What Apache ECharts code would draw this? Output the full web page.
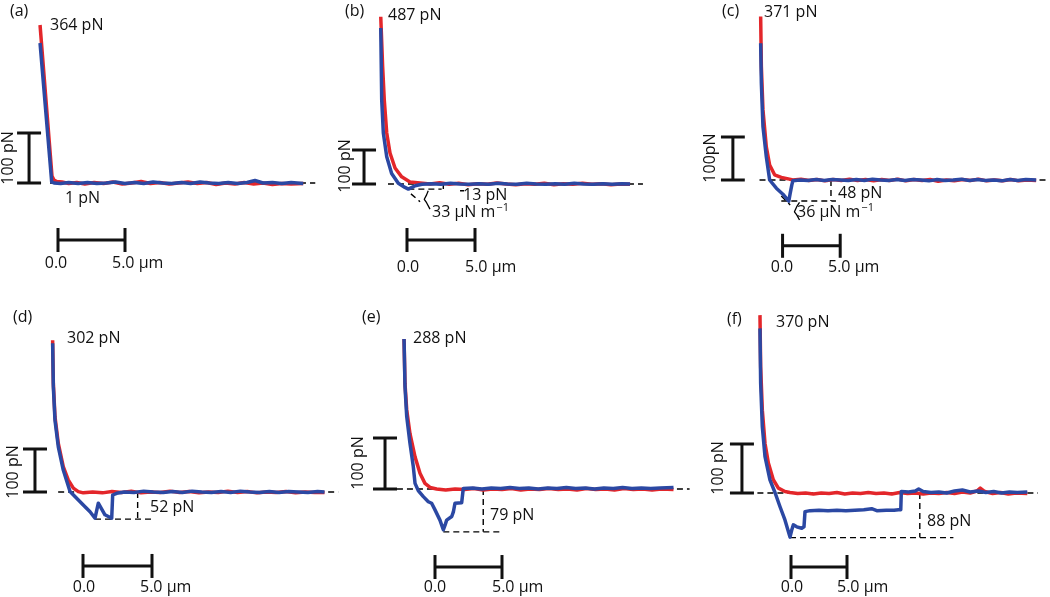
<!DOCTYPE html>
<html>
<head>
<meta charset="utf-8">
<script src="https://cdn.jsdelivr.net/npm/echarts@6/dist/echarts.min.js"></script>
<style>
  html, body {margin: 0; padding: 0; background: #fff;}
  #chart {width: 1050px; height: 597px;}
</style>
</head>
<body>
<div id="chart"></div>
<script>
// force curves: [distance µm, force pN]; red = approach, blue = retract
const redA = [[-1.34,316],[-0.45,14],[-0.3,6],[-0.1,3],[0.3,2],[0.8,-1],[1.4,1],[2,-2],[2.7,1],[3.4,-1],[4.1,2],[4.8,-2],[5.5,0],[6.2,3],[6.9,-1],[7.6,1],[8.3,-2],[9,0],[9.7,2],[10.4,-1],[11.1,1],[11.8,-3],[12.5,0],[13.2,-2],[13.9,1],[14.6,-2],[15.3,0],[16,-3],[16.7,-1],[17.4,-2],[18.3,-1]];
const blueA = [[-1.34,280],[-0.47,2],[-0.3,0],[0.2,-1],[0.8,1],[1.5,-1],[2.2,1],[2.9,-1],[3.6,0],[4.3,2],[5,-1],[5.7,1],[6.4,-1],[7.1,2],[7.8,0],[8.5,-1],[9.2,1],[9.9,-1],[10.6,2],[11.3,0],[12,-1],[12.7,1],[13.4,-1],[14.1,1],[14.7,5],[15.3,0],[16,1],[16.7,-1],[17.4,1],[18.3,-1]];

const redB = [[-1.93,492],[-1.79,345],[-1.67,247],[-1.49,150],[-1.25,91],[-0.88,47],[-0.39,21],[0.22,6],[0.96,3],[1.7,0],[2.4,4],[3.1,-1],[3.8,2],[4.5,-2],[5.2,1],[5.9,-1],[6.6,3],[7.3,0],[8,-2],[8.7,1],[9.4,-1],[10.1,2],[10.8,-2],[11.5,1],[12.2,-1],[12.9,2],[13.6,-1],[14.3,1],[15,-2],[15.7,0],[16.4,-1]];
const blueB = [[-1.93,459],[-1.86,247],[-1.74,150],[-1.49,80],[-1.13,31],[-0.64,2],[-0.15,-10],[0.1,-15],[0.6,-5],[1.1,-1],[1.8,1],[2.5,-1],[3.2,2],[3.9,0],[4.6,-1],[5.3,1],[6,-1],[6.7,2],[7.4,0],[8.1,-1],[8.8,2],[9.5,0],[10.2,-1],[10.9,1],[11.6,-1],[12.3,2],[13,0],[13.7,-1],[14.4,1],[15.1,-1],[15.8,1],[16.4,0]];

const redC = [[-1.9,380],[-1.84,264],[-1.7,163],[-1.41,77],[-1.12,35],[-0.69,12],[-0.11,6],[0.6,2],[0.89,0],[1.6,2],[2.3,-1],[3,1],[3.7,-2],[4.4,1],[5.1,-1],[5.8,2],[6.5,-1],[7.2,1],[7.9,-2],[8.6,1],[9.3,-1],[10,2],[10.7,-2],[11.4,1],[12.1,-1],[12.8,1],[13.5,-3],[14.2,0],[14.9,-2],[15.6,1],[16.3,-1],[17,2],[17.7,-2],[18.4,0],[19.1,-2],[19.8,1],[20.5,-2],[21.2,0],[22,-1]];
const blueC = [[-1.9,318],[-1.84,225],[-1.7,124],[-1.41,54],[-1.12,0],[-0.54,-19],[0.03,-33],[0.54,-49],[0.66,-31],[0.8,-12],[0.89,-2],[1.5,0],[2.2,-1],[2.9,1],[3.6,-1],[4.3,1],[5,0],[5.7,-1],[6.4,1],[7.1,-1],[7.8,2],[8.5,0],[9.2,-1],[9.9,1],[10.6,-1],[11.3,1],[12,0],[12.7,-2],[13.4,1],[14.1,-1],[14.8,0],[15.5,2],[16.2,-1],[16.9,1],[17.6,-1],[18.3,0],[19,-2],[19.7,1],[20.4,-1],[21.1,1],[22,0]];

const redD = [[-2.2,353],[-2.15,253],[-2.03,175],[-1.79,113],[-1.43,59],[-1.07,28],[-0.7,9],[-0.34,1],[0.02,-2],[0.7,0],[1.4,-2],[2.1,1],[2.8,-1],[3.5,2],[4.2,-2],[4.9,0],[5.6,-1],[6.3,2],[7,-1],[7.7,1],[8.4,-2],[9.1,0],[9.8,-1],[10.5,2],[11.2,-1],[11.9,1],[12.6,-2],[13.3,0],[14,-1],[14.7,1],[15.4,-2],[16.1,0],[16.8,-1],[17.5,-1]];
const blueD = [[-2.2,346],[-2.15,245],[-2.03,167],[-1.79,105],[-1.43,51],[-0.94,1],[0.02,-30],[0.51,-46],[0.87,-61],[1.11,-26],[1.59,-53],[2.08,-61],[2.15,-7],[2.44,-3],[3,0],[3.7,-1],[4.4,2],[5.1,0],[5.8,-1],[6.5,1],[7.2,-1],[7.9,2],[8.6,0],[9.3,-1],[10,1],[10.7,-1],[11.4,2],[12.1,0],[12.8,-1],[13.5,1],[14.2,-1],[14.9,1],[15.6,0],[16.3,-1],[17,1],[17.5,0]];

const redE = [[-2.31,294],[-2.24,207],[-2.11,155],[-1.87,109],[-1.49,63],[-1.12,31],[-0.75,11],[-0.37,3],[0.12,0],[0.8,-2],[1.5,0],[2.2,-1],[2.9,1],[3.6,-2],[4.3,0],[5,-1],[5.7,1],[6.4,-2],[7.1,0],[7.8,-1],[8.5,1],[9.2,-1],[9.9,0],[10.6,-2],[11.3,1],[12,-1],[12.7,0],[13.4,-2],[14.1,1],[14.8,-1],[15.5,0],[16.2,-2],[16.9,0],[17.8,-1]];
const blueE = [[-2.31,294],[-2.24,201],[-2.11,142],[-1.87,90],[-1.62,44],[-1.49,11],[-1.25,-3],[-0.87,-15],[-0.5,-25],[-0.25,-28],[0,-41],[0.37,-61],[0.62,-80],[0.75,-71],[0.87,-61],[1.25,-54],[1.37,-45],[1.49,-28],[1.99,-27],[2.11,1],[2.8,2],[3.5,0],[4.2,2],[4.9,1],[5.6,3],[6.3,1],[7,2],[7.7,0],[8.4,2],[9.1,1],[9.8,3],[10.5,1],[11.2,2],[11.9,0],[12.6,2],[13.3,1],[14,3],[14.7,1],[15.4,2],[16.1,1],[16.8,2],[17.8,3]];

const redF = [[-2.77,363],[-2.71,258],[-2.56,169],[-2.32,101],[-2.02,61],[-1.58,27],[-1.13,10],[-0.54,3],[-0.09,1],[0.6,-1],[1.3,0],[2,-2],[2.7,0],[3.4,-1],[4.1,1],[4.8,-2],[5.5,0],[6.2,-1],[6.9,1],[7.6,-1],[8.3,0],[9,-2],[9.7,1],[10.4,-1],[11.1,0],[11.8,-2],[12.5,0],[13.2,-1],[13.9,1],[14.6,-1],[15.3,2],[16,0],[16.6,4],[16.9,10],[17.3,3],[18,-1],[18.7,1],[19.4,-2],[20.1,0],[21.1,-1]];
const blueF = [[-2.77,336],[-2.71,224],[-2.56,135],[-2.32,74],[-1.88,27],[-1.43,1],[-0.98,-28],[-0.54,-55],[-0.09,-90],[0.06,-76],[0.21,-65],[0.51,-69],[0.96,-72],[1.16,-69],[1.25,-38],[1.7,-36],[2.5,-35],[3.3,-36],[4.1,-35],[4.9,-36],[5.7,-35],[6.5,-34],[7.2,-32],[7.66,-36],[8.5,-35],[9.2,-35],[9.6,-34],[9.8,-34],[9.85,3],[10.5,2],[11.1,4],[11.4,8],[11.8,3],[12.5,1],[13.2,2],[13.9,0],[14.6,4],[15.3,6],[16,2],[16.7,4],[17.4,1],[18.1,3],[18.8,0],[19.5,2],[20.2,1],[21.1,2]];

const redCurves = [redA, redB, redC, redD, redE, redF];
const blueCurves = [blueA, blueB, blueC, blueD, blueE, blueF];

const panelLabels = ['(a)', '(b)', '(c)', '(d)', '(e)', '(f)'];
const peakLabels = ['364 pN', '487 pN', '371 pN', '302 pN', '288 pN', '370 pN'];
const forceBarLabels = ['100 pN', '100 pN', '100pN', '100 pN', '100 pN', '100 pN'];
const adhesionLabels = ['1 pN', '13 pN', '48 pN', '52 pN', '79 pN', '88 pN'];
const slopeLabels = [null, '33 μN m', '36 μN m', null, null, null];
const distTicks = ['0.0', '5.0 μm'];

// scale bars: 100 pN vertical, 5 µm horizontal
const forceBarLen = 100;
const distBarLen = 5;
const forceBarX = [-2.16, -3.16, -4.31, -3.48, -3.73, -4.38];
const distBarY = [-114, -165, -153, -172, -153, -151];

// zero-force dashed line extents (µm)
const zeroLine = [[-0.6, 19.2], [-1.4, 17.35], [-2.0, 23.0], [-1.8, 18.5], [-2.84, 19.0], [-3.0, 22.05]];

// dashed annotation guides per panel
const guides = [
  [],
  [[[0.1,-15],[2.55,-15]], [[2.67,-15],[2.67,-3]], [[3.9,-20],[4.2,-20]], [[0.29,-29],[0.96,-52]]],
  [[[-0.11,-49],[4.63,-49]], [[4.2,0],[4.2,-49]], [[-0.11,-37],[0.66,-58]]],
  [[[0.87,-63],[4.98,-63]], [[3.96,0],[3.96,-63]]],
  [[[0.62,-84],[4.98,-84]], [[3.6,0],[3.6,-84]]],
  [[[-0.09,-91],[14.5,-91]], [[11.5,0],[11.5,-91]]]
];
// braces next to the slope labels
const braces = [
  null,
  [[1.56,-20],[1.44,-32],[1.27,-45],[1.44,-55],[1.69,-74]],
  [[1.47,-52],[1.23,-62],[1.03,-74],[1.23,-81],[1.47,-93]],
  null, null, null
];

// pixel layout of each panel: x0/y0 = origin, sx px per µm, sy px per pN
const layout = [
  {x0: 58,  y0: 183, sx: 13.4, sy: 0.5,  xr: [-4, 20],   yr: [-160, 340]},
  {x0: 407, y0: 184, sx: 13.6, sy: 0.34, xr: [-5, 18],   yr: [-220, 520]},
  {x0: 783, y0: 180, sx: 11.6, sy: 0.43, xr: [-6, 23.2], yr: [-200, 400]},
  {x0: 83,  y0: 492, sx: 13.8, sy: 0.43, xr: [-5, 19],   yr: [-220, 380]},
  {x0: 435, y0: 489, sx: 13.4, sy: 0.51, xr: [-5, 20],   yr: [-200, 320]},
  {x0: 791, y0: 493, sx: 11.2, sy: 0.49, xr: [-6, 23],   yr: [-200, 380]}
];
// text positions (px)
const textPos = [
  {lab: [10, 11],  peak: [50, 25],  bar: [8, 158],   adh: [65, 198],  slope: null,      zero: 56,  five: 112, ty: 263},
  {lab: [345, 11], peak: [388, 15], bar: [345, 166], adh: [463, 195], slope: [432, 212], zero: 408, five: 465, ty: 267},
  {lab: [722, 11], peak: [764, 12], bar: [710, 158], adh: [838, 193], slope: [797, 212], zero: 782, five: 828, ty: 267},
  {lab: [13, 317], peak: [67, 338], bar: [13, 472],  adh: [150, 507], slope: null,      zero: 84,  five: 140, ty: 587},
  {lab: [362, 317], peak: [413, 338], bar: [358, 463], adh: [490, 515], slope: null,    zero: 435, five: 492, ty: 587},
  {lab: [727, 319], peak: [776, 322], bar: [718, 468], adh: [927, 521], slope: null,    zero: 792, five: 837, ty: 587}
];

const RED = '#e3262a';
const BLUE = '#2b48a3';
const INK = '#111';
const FONT = '"Open Sans", "Noto Sans", sans-serif';

const grids = [], xAxes = [], yAxes = [], series = [], graphics = [];

function seg(i, data, style) {
  series.push({
    type: 'line', xAxisIndex: i, yAxisIndex: i, data: data,
    symbol: 'none', silent: true, animation: false, clip: false,
    lineStyle: style
  });
}

function txt(x, y, s, align, rot) {
  graphics.push({
    type: 'text', x: x, y: y, rotation: rot || 0, silent: true,
    style: {
      text: s, fontSize: 16, fontFamily: FONT, fill: INK,
      textAlign: align || 'left', textVerticalAlign: 'middle',
      align: align || 'left', verticalAlign: 'middle'
    }
  });
}

layout.forEach((L, i) => {
  grids.push({
    left: L.x0 + L.xr[0] * L.sx,
    width: (L.xr[1] - L.xr[0]) * L.sx,
    top: L.y0 - L.yr[1] * L.sy,
    height: (L.yr[1] - L.yr[0]) * L.sy
  });
  xAxes.push({gridIndex: i, type: 'value', min: L.xr[0], max: L.xr[1], show: false});
  yAxes.push({gridIndex: i, type: 'value', min: L.yr[0], max: L.yr[1], show: false});

  const dash = {color: '#000', width: 1.4, type: [6, 4]};
  const bar = {color: INK, width: 3, type: 'solid'};

  seg(i, [[zeroLine[i][0], 0], [zeroLine[i][1], 0]], dash);
  guides[i].forEach(g => seg(i, g, dash));
  if (braces[i]) seg(i, braces[i], {color: '#000', width: 1.3});

  seg(i, redCurves[i], {color: RED, width: 3.5, join: 'round'});
  seg(i, blueCurves[i], {color: BLUE, width: 3.5, join: 'round'});

  // 100 pN bar
  const fx = forceBarX[i], cx = 12 / L.sx;
  seg(i, [[fx, 0], [fx, forceBarLen]], bar);
  seg(i, [[fx - cx, 0], [fx + cx, 0]], bar);
  seg(i, [[fx - cx, forceBarLen], [fx + cx, forceBarLen]], bar);
  // 5 µm bar
  const dy = distBarY[i], cy = 12 / L.sy;
  seg(i, [[0, dy], [distBarLen, dy]], bar);
  seg(i, [[0, dy - cy], [0, dy + cy]], bar);
  seg(i, [[distBarLen, dy - cy], [distBarLen, dy + cy]], bar);

  const T = textPos[i];
  txt(T.lab[0], T.lab[1], panelLabels[i]);
  txt(T.peak[0], T.peak[1], peakLabels[i]);
  txt(T.bar[0], T.bar[1], forceBarLabels[i], 'center', Math.PI / 2);
  txt(T.adh[0], T.adh[1], adhesionLabels[i]);
  txt(T.zero, T.ty, distTicks[0], 'center');
  txt(T.five, T.ty, distTicks[1]);
  if (slopeLabels[i]) {
    graphics.push({
      type: 'text', x: T.slope[0], y: T.slope[1], silent: true,
      style: {
        text: '{m|' + slopeLabels[i] + '}{s|−1}',
        textVerticalAlign: 'middle', verticalAlign: 'middle',
        rich: {
          m: {fontSize: 16, fontFamily: FONT, fill: INK, color: INK},
          s: {fontSize: 11, fontFamily: FONT, fill: INK, color: INK, verticalAlign: 'top', padding: [0, 0, 8, 1]}
        }
      }
    });
  }
});

const chart = echarts.init(document.getElementById('chart'));
chart.setOption({
  backgroundColor: '#fff',
  animation: false,
  grid: grids,
  xAxis: xAxes,
  yAxis: yAxes,
  series: series,
  graphic: graphics
});
</script>
</body>
</html>
